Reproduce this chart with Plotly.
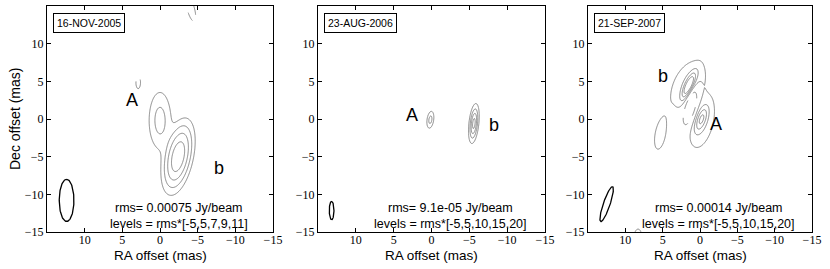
import numpy as np
import plotly.graph_objects as go

# ---------------- data ----------------
epochs = ["16-NOV-2005", "23-AUG-2006", "21-SEP-2007"]
rms_values = [0.00075, 9.1e-05, 0.00014]
rms_labels = ["0.00075", "9.1e-05", "0.00014"]
level_labels = ["[-5,5,7,9,11]", "[-5,5,10,15,20]", "[-5,5,10,15,20]"]
level_lists = [[-5, 5, 7, 9, 11], [-5, 5, 10, 15, 20], [-5, 5, 10, 15, 20]]

# Gaussian model components per epoch:
# RA offset (mas), Dec offset (mas), peak (rms units), sigma major, sigma minor (mas), PA (deg)
ep1_x = [0.0, -2.4, 2.85, -4.1]
ep1_y = [-0.2, -5.0, 4.75, 14.6]
ep1_peak = [7.7, 12.6, -6.6, -6.0]
ep1_smaj = [4.0, 3.85, 1.4, 2.8]
ep1_smin = [1.55, 1.5, 0.55, 0.8]
ep1_pa = [0, -12, 0, 15]

ep2_x = [0.15, -5.6]
ep2_y = [-0.1, -0.6]
ep2_peak = [12.0, 22.0]
ep2_smaj = [0.85, 1.55]
ep2_smin = [0.33, 0.38]
ep2_pa = [-8, -6]

ep3_x = [1.5, 1.5, -0.2, -0.3, 1.25, 5.35, 8.3]
ep3_y = [4.4, 5.0, 0.0, -0.6, 1.7, -2.2, -15.6]
ep3_peak = [20.0, 9.0, 13.0, 9.0, -24.0, 6.0, 7.0]
ep3_smaj = [1.3, 2.7, 1.2, 3.0, 1.7, 3.0, 1.2]
ep3_smin = [0.4, 1.6, 0.45, 1.3, 0.5, 1.1, 0.6]
ep3_pa = [-25, -30, -20, -15, -15, -10, 0]

# how overlapping positive components blend (1 = plain sum)
blend_power = [3.0, 1.0, 1.0]

# restoring beams (centre RA, centre Dec, major, minor, PA)
beam_x = [12.4, 13.2, 12.5]
beam_y = [-10.8, -12.15, -11.3]
beam_maj = [5.6, 2.45, 4.9]
beam_min = [1.95, 0.62, 0.9]
beam_pa = [0, 0, -19]

# component labels
lab_text = [["A", "b"], ["A", "b"], ["b", "A"]]
lab_x = [[3.75, -7.8], [2.6, -8.3], [5.0, -2.15]]
lab_y = [[2.5, -6.55], [0.56, -0.76], [5.7, -0.65]]

tick_vals_x = [10, 5, 0, -5, -10, -15]
tick_vals_y = [-15, -10, -5, 0, 5, 10]

components = [
    (ep1_x, ep1_y, ep1_peak, ep1_smaj, ep1_smin, ep1_pa),
    (ep2_x, ep2_y, ep2_peak, ep2_smaj, ep2_smin, ep2_pa),
    (ep3_x, ep3_y, ep3_peak, ep3_smaj, ep3_smin, ep3_pa),
]

# ---------------- construction ----------------
grid = np.linspace(-15, 15, 301)
GX, GY = np.meshgrid(grid, grid)


def model_map(cx, cy, cp, cmaj, cmin, cpa, power):
    zpos = np.zeros_like(GX)
    zneg = np.zeros_like(GX)
    for x0, y0, p, a, b, pa in zip(cx, cy, cp, cmaj, cmin, cpa):
        th = np.radians(pa)
        dx = GX - x0
        dy = GY - y0
        u = dx * np.sin(th) + dy * np.cos(th)
        v = dx * np.cos(th) - dy * np.sin(th)
        g = np.exp(-0.5 * ((u / a) ** 2 + (v / b) ** 2))
        if p > 0:
            zpos += (p * g) ** power
        else:
            zneg += p * g
    return zpos ** (1.0 / power) + zneg


domains_x = [[47 / 830, 273 / 830], [318 / 830, 545 / 830], [588 / 830, 812 / 830]]
dom_y = [1 - 232 / 269, 1 - 6 / 269]

fig = go.Figure()
annotations = []
contour_color = "#888888"

for i in range(3):
    xa = "x" if i == 0 else f"x{i + 1}"
    ya = "y" if i == 0 else f"y{i + 1}"
    rms = rms_values[i]
    z = model_map(*components[i], blend_power[i]) * rms
    for lev in level_lists[i]:
        fig.add_trace(go.Contour(
            x=grid, y=grid, z=z, xaxis=xa, yaxis=ya, autocontour=False,
            contours=dict(start=lev * rms, end=lev * rms + 0.1 * rms, size=100 * rms,
                          coloring="none"),
            line=dict(color=contour_color, width=1,
                      dash="dash" if lev < 0 else "solid"),
            showscale=False, hoverinfo="skip", showlegend=False))
    # beam ellipse
    t = np.linspace(0, 2 * np.pi, 120)
    th = np.radians(beam_pa[i])
    u = 0.5 * beam_maj[i] * np.cos(t)
    v = 0.5 * beam_min[i] * np.sin(t)
    bx = beam_x[i] + u * np.sin(th) + v * np.cos(th)
    by = beam_y[i] + u * np.cos(th) - v * np.sin(th)
    fig.add_trace(go.Scatter(x=bx, y=by, mode="lines", xaxis=xa, yaxis=ya,
                             line=dict(color="black", width=1.3),
                             hoverinfo="skip", showlegend=False))
    # component labels
    for txt, lx, ly in zip(lab_text[i], lab_x[i], lab_y[i]):
        annotations.append(dict(x=lx, y=ly, xref=xa, yref=ya, text=txt, showarrow=False,
                                font=dict(family="Liberation Sans", size=18, color="black")))
    # rms / levels text
    annotations.append(dict(x=-2.5, y=-11.8, xref=xa, yref=ya,
                            text=f"rms= {rms_labels[i]} Jy/beam", showarrow=False,
                            font=dict(family="Liberation Sans", size=12.5, color="black")))
    annotations.append(dict(x=-2.5, y=-13.9, xref=xa, yref=ya,
                            text=f"levels = rms*{level_labels[i]}", showarrow=False,
                            font=dict(family="Liberation Sans", size=12.5, color="black")))
    # epoch box
    annotations.append(dict(x=domains_x[i][0] + 6 / 830, y=1 - 13 / 269,
                            xref="paper", yref="paper", xanchor="left", yanchor="top",
                            text=epochs[i], showarrow=False, bgcolor="white",
                            bordercolor="black", borderwidth=1, borderpad=3,
                            font=dict(family="Liberation Sans", size=10.5, color="black")))
    # x title
    annotations.append(dict(x=(domains_x[i][0] + domains_x[i][1]) / 2, y=1 - 255.5 / 269,
                            xref="paper", yref="paper", xanchor="center", yanchor="middle",
                            text="RA offset (mas)", showarrow=False,
                            font=dict(family="Liberation Sans", size=13.5, color="black")))

annotations.append(dict(x=15 / 830, y=(dom_y[0] + dom_y[1]) / 2, xref="paper", yref="paper",
                        xanchor="center", yanchor="middle", textangle=-90,
                        text="Dec offset (mas)", showarrow=False,
                        font=dict(family="Liberation Sans", size=14, color="black")))

axis_common = dict(showline=True, linecolor="black", linewidth=1, mirror="ticks",
                   ticks="inside", ticklen=4, tickcolor="black", tickwidth=1,
                   showgrid=False, zeroline=False, automargin=False,
                   tickfont=dict(family="Liberation Serif", size=12, color="black"))

layout = dict(width=830, height=269, margin=dict(l=0, r=0, t=0, b=0, autoexpand=False),
              template="none", paper_bgcolor="white", plot_bgcolor="white",
              showlegend=False, annotations=annotations)
for i in range(3):
    xk = "xaxis" if i == 0 else f"xaxis{i + 1}"
    yk = "yaxis" if i == 0 else f"yaxis{i + 1}"
    xa = "x" if i == 0 else f"x{i + 1}"
    ya = "y" if i == 0 else f"y{i + 1}"
    layout[xk] = dict(axis_common, domain=domains_x[i], range=[15, -15], anchor=ya,
                      tickvals=tick_vals_x, ticklabelstandoff=-3)
    layout[yk] = dict(axis_common, domain=dom_y, range=[-15, 15], anchor=xa,
                      tickvals=tick_vals_y)

fig.update_layout(**layout)
fig.write_html("out.html", config={"displayModeBar": False},
               post_script="document.body.style.margin='0';document.body.style.overflow='hidden';")
